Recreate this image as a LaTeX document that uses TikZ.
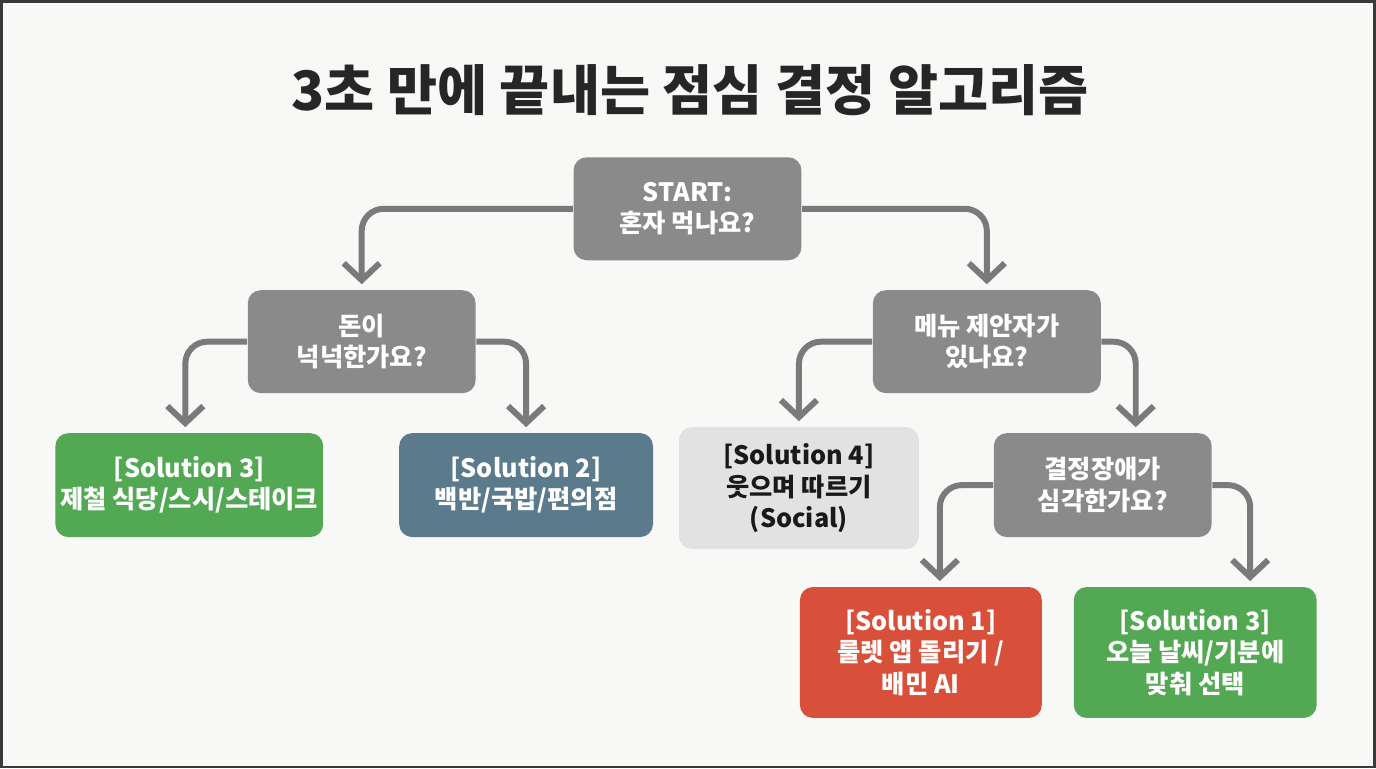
\documentclass[tikz,border=0pt]{standalone}
\usepackage{fontspec}
\setmainfont{Noto Sans CJK KR}
\usepackage{tikz}
\usetikzlibrary{positioning, arrows.meta, calc}

\definecolor{bgpaper}{HTML}{F8F8F7}
\definecolor{frameline}{HTML}{3A3A3A}
\definecolor{askgray}{HTML}{8A8A8A}
\definecolor{flowgray}{HTML}{7A7A7A}
\definecolor{solgreen}{HTML}{52A853}
\definecolor{solblue}{HTML}{5B7A8C}
\definecolor{sollight}{HTML}{E2E2E2}
\definecolor{solred}{HTML}{D9503A}

\begin{document}
\begin{tikzpicture}[
    question/.style={rectangle, rounded corners=0.13cm, fill=askgray, text=white, minimum width=2.28cm, minimum height=1.03cm, align=center, font=\fontsize{7.2}{8.9}\selectfont\bfseries},
    solution/.style={rectangle, rounded corners=0.13cm, text=white, minimum height=1.04cm, inner xsep=1pt, align=center, font=\fontsize{7.2}{8.9}\selectfont\bfseries},
    flow/.style={draw=flowgray, line width=1.7pt, rounded corners=0.22cm, -{Straight Barb[length=1.7mm, width=3.6mm, line width=1.7pt]}, shorten >=1.5pt}
]

    % --- PAPER ---
    \fill[bgpaper] (0,0) rectangle (13.76,-7.68);
    \draw[frameline, line width=0.8pt] (0.01,-0.01) rectangle (13.75,-7.67);
    \useasboundingbox (0,0) rectangle (13.76,-7.68);

    % --- TITLE ---
    \node[font=\fontsize{15.5}{18}\selectfont\bfseries, text=black!85] (title) at (6.90, -0.90) {3초 만에 끝내는 점심 결정 알고리즘};

    % --- LEVEL 1: START ---
    \node[question] (start) at (6.875, -2.085) {START:\\혼자 먹나요?};

    % --- LEVEL 2: QUESTIONS ---
    \node[question] (money) at (3.615, -3.415) {돈이\\넉넉한가요?};
    \node[question] (menu) at (9.87, -3.415) {메뉴 제안자가\\있나요?};
    \draw[flow] (start.west) -| (money.north);
    \draw[flow] (start.east) -| (menu.north);

    % --- LEVEL 3: ANSWERS FROM MONEY ---
    \node[solution, fill=solgreen, minimum width=2.68cm] (richlunch) at (1.89, -4.85) {[Solution 3]\\제철 식당/스시/스테이크};
    \node[solution, fill=solblue, minimum width=2.54cm] (cheaplunch) at (5.26, -4.85) {[Solution 2]\\백반/국밥/편의점};
    \draw[flow] (money.west) -| ([xshift=-0.04cm]richlunch.north);
    \draw[flow] (money.east) -| (cheaplunch.north);

    % --- LEVEL 3: ANSWERS FROM MENU ---
    \node[solution, fill=sollight, text=black!90, minimum width=2.40cm, minimum height=1.22cm] (social) at (7.99, -4.88) {[Solution 4]\\웃으며 따르기\\(Social)};
    \node[question, minimum width=2.18cm, minimum height=1.04cm] (decide) at (11.03, -4.85) {결정장애가\\심각한가요?};
    \draw[flow] (menu.west) -| (social.north);
    \draw[flow] (menu.east) -| ([xshift=0.33cm]decide.north);

    % --- LEVEL 4: ANSWERS FROM DECIDE ---
    \node[solution, fill=solred, minimum width=2.42cm, minimum height=1.31cm] (roulette) at (9.21, -6.525) {[Solution 1]\\룰렛 앱 돌리기 /\\배민 AI};
    \node[solution, fill=solgreen, minimum width=2.43cm, minimum height=1.31cm] (weather) at (11.955, -6.525) {[Solution 3]\\오늘 날씨/기분에\\맞춰 선택};
    \draw[flow] (decide.west) -| ([xshift=0.19cm]roulette.north);
    \draw[flow] (decide.east) -| ([xshift=0.55cm]weather.north);

\end{tikzpicture}
\end{document}
